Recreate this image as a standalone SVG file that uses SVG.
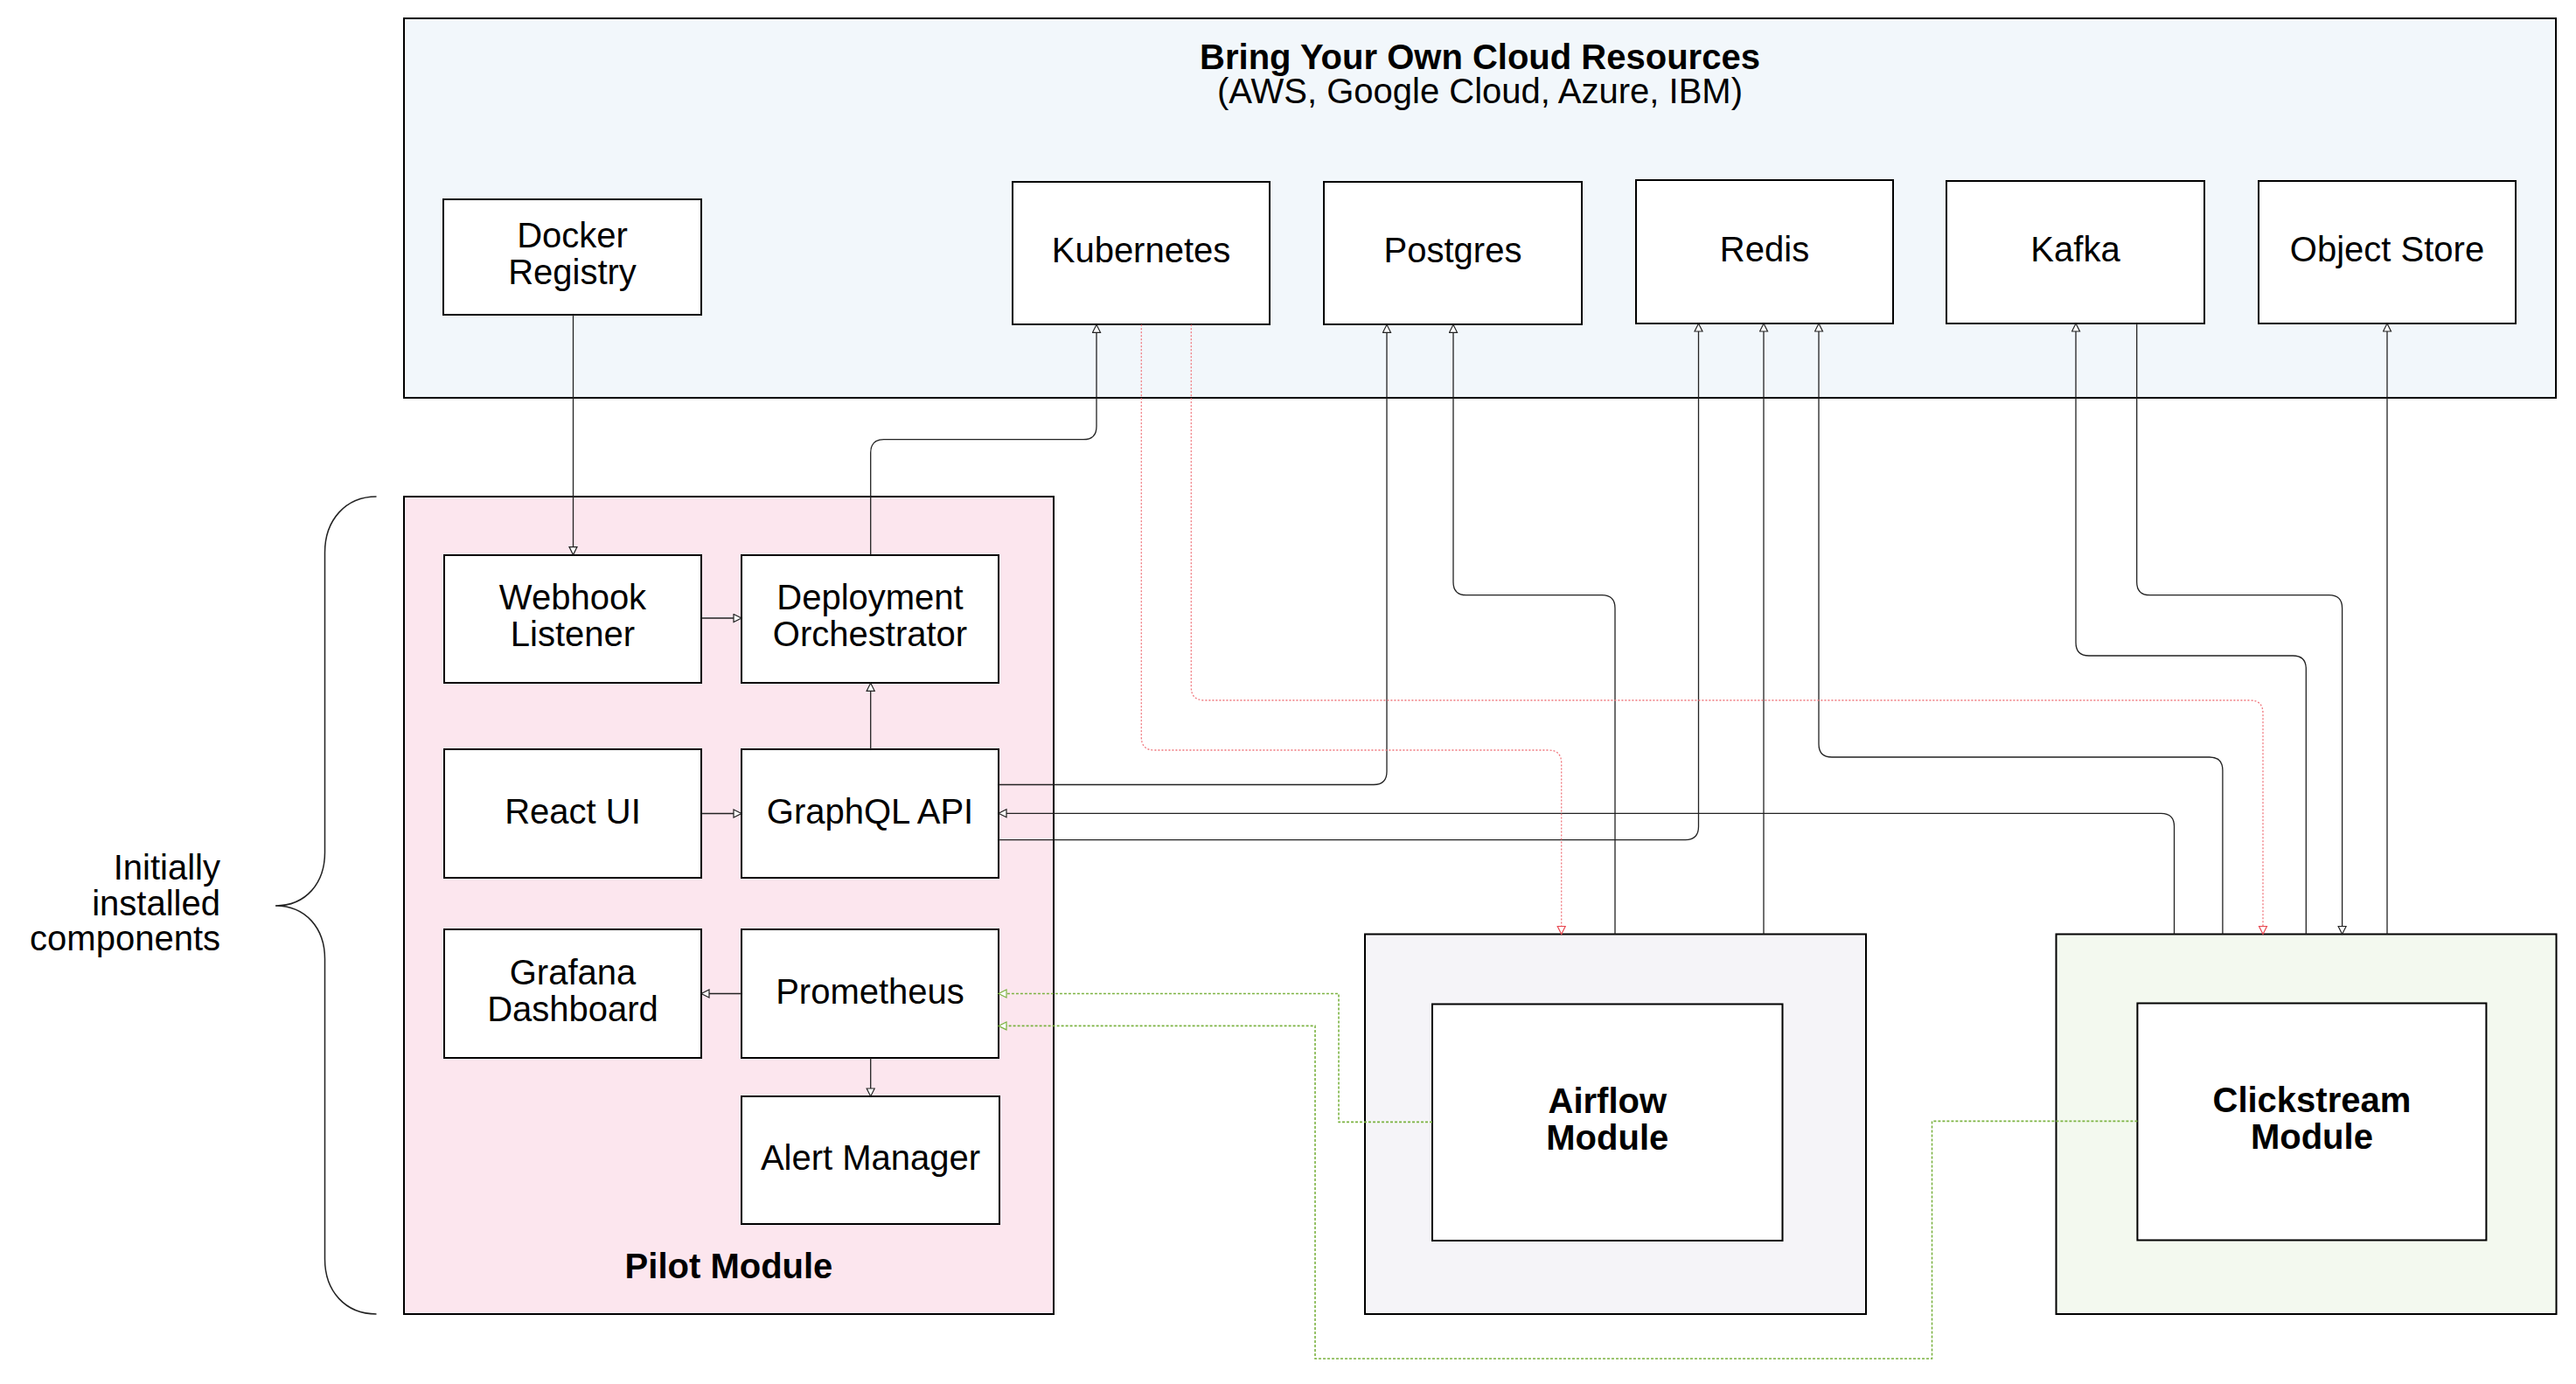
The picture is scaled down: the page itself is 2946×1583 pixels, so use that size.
<svg xmlns="http://www.w3.org/2000/svg" width="2946" height="1583" viewBox="0 0 2946 1583">
<style>
.box{fill:#fff;stroke:#000;stroke-width:2}
.t{font-family:"Liberation Sans",Arial,sans-serif;font-size:40px;text-anchor:middle;fill:#000}
.b{font-weight:bold}
.c{fill:none;stroke:#222;stroke-width:1.3}
.red{fill:none;stroke:#f0787e;stroke-width:1.3;stroke-dasharray:2 2}
.grn{fill:none;stroke:#7cb342;stroke-width:1.6;stroke-dasharray:3 2}
</style>
<defs>
<marker id="a" markerUnits="userSpaceOnUse" markerWidth="12" markerHeight="12" refX="10" refY="5.5" orient="auto"><path d="M1,1 L10,5.5 L1,10 z" fill="#fff" stroke="#222" stroke-width="1.2"/></marker>
<marker id="ar" markerUnits="userSpaceOnUse" markerWidth="12" markerHeight="12" refX="10" refY="5.5" orient="auto"><path d="M1,1 L10,5.5 L1,10 z" fill="#fff" stroke="#e8454e" stroke-width="1.2"/></marker>
<marker id="ag" markerUnits="userSpaceOnUse" markerWidth="12" markerHeight="12" refX="10" refY="5.5" orient="auto"><path d="M1,1 L10,5.5 L1,10 z" fill="#fff" stroke="#7cb342" stroke-width="1.2"/></marker>
</defs>
<rect width="2946" height="1583" fill="#fff"/>

<g id="cloud">
<rect x="462" y="21" width="2461" height="434" fill="#f2f7fb" stroke="#000" stroke-width="2"/>
<text class="t b" x="1692.5" y="79" font-size="38">Bring Your Own Cloud Resources</text>
<text class="t" x="1692.5" y="118" font-size="31">(AWS, Google Cloud, Azure, IBM)</text>
</g>

<g id="pilot">
<rect x="462" y="568" width="743" height="935" fill="#fce6ee" stroke="#000" stroke-width="2"/>
<text class="t b" x="833.5" y="1462" font-size="39">Pilot Module</text>
</g>

<g id="brace">
<path d="M430.5,568 C395,568 371.5,595 371.5,632 L371.5,975 C371.5,1010 350,1036 315,1036 C350,1036 371.5,1062 371.5,1097 L371.5,1440 C371.5,1477 395,1503 430.5,1503" fill="none" stroke="#222" stroke-width="1.5"/>
<text class="t" style="text-anchor:end" font-size="41" x="252" y="1006"><tspan x="252" y="1006">Initially</tspan><tspan x="252" y="1046.5">installed</tspan><tspan x="252" y="1087">components</tspan></text>
</g>

<g id="docker"><rect class="box" x="507" y="228" width="295" height="132"/><text class="t" x="654.5" y="283">Docker<tspan x="654.5" y="325">Registry</tspan></text></g>
<g id="kubernetes"><rect class="box" x="1158" y="208" width="294" height="163"/><text class="t" x="1305" y="300">Kubernetes</text></g>
<g id="postgres"><rect class="box" x="1514" y="208" width="295" height="163"/><text class="t" x="1661.5" y="300">Postgres</text></g>
<g id="redis"><rect class="box" x="1871" y="206" width="294" height="164"/><text class="t" x="2018" y="298.5">Redis</text></g>
<g id="kafka"><rect class="box" x="2226" y="207" width="295" height="163"/><text class="t" x="2373.5" y="299">Kafka</text></g>
<g id="objectstore"><rect class="box" x="2583" y="207" width="294" height="163"/><text class="t" x="2730" y="299">Object Store</text></g>

<g id="webhook"><rect class="box" x="508" y="635" width="294" height="146"/><text class="t" x="655" y="697">Webhook<tspan x="655" y="739">Listener</tspan></text></g>
<g id="deployment"><rect class="box" x="848" y="635" width="294" height="146"/><text class="t" x="995" y="697">Deployment<tspan x="995" y="739">Orchestrator</tspan></text></g>
<g id="reactui"><rect class="box" x="508" y="857" width="294" height="147"/><text class="t" x="655" y="941.5">React UI</text></g>
<g id="graphql"><rect class="box" x="848" y="857" width="294" height="147"/><text class="t" x="995" y="941.5">GraphQL API</text></g>
<g id="grafana"><rect class="box" x="508" y="1063" width="294" height="147"/><text class="t" x="655" y="1125.5">Grafana<tspan x="655" y="1167.5">Dashboard</tspan></text></g>
<g id="prometheus"><rect class="box" x="848" y="1063" width="294" height="147"/><text class="t" x="995" y="1147.5">Prometheus</text></g>
<g id="alertmanager"><rect class="box" x="848" y="1254" width="295" height="146"/><text class="t" x="995.5" y="1338">Alert Manager</text></g>

<g id="airflow">
<rect x="1561" y="1068.5" width="573" height="434.5" fill="#f5f4f8" stroke="#000" stroke-width="2"/>
<rect class="box" x="1638" y="1148.5" width="400.5" height="270.5"/>
<text class="t b" x="1838.3" y="1272.7" font-size="39">Airflow<tspan x="1838.3" y="1314.7">Module</tspan></text>
</g>
<g id="clickstream">
<rect x="2351.5" y="1068.5" width="572" height="434.5" fill="#f3f9ef" stroke="#000" stroke-width="2"/>
<rect class="box" x="2444.4" y="1147.5" width="399" height="271"/>
<text class="t b" x="2643.9" y="1272" font-size="39">Clickstream<tspan x="2643.9" y="1314">Module</tspan></text>
</g>

<g id="connectors">
<path class="c" marker-end="url(#a)" d="M655.5,360 L655.5,634.6"/>
<path class="c" marker-end="url(#a)" d="M802,707 L848,707"/>
<path class="c" marker-end="url(#a)" d="M995.7,857 L995.7,781.3"/>
<path class="c" marker-end="url(#a)" d="M802,930.5 L848,930.5"/>
<path class="c" marker-end="url(#a)" d="M848,1136.5 L802,1136.5"/>
<path class="c" marker-end="url(#a)" d="M995.7,1210 L995.7,1254"/>
<path class="c" marker-end="url(#a)" d="M995.7,634.6 L995.7,517.7 Q995.7,502.7 1010.7,502.7 L1239,502.7 Q1254,502.7 1254,487.7 L1254,371.3"/>
<path class="c" marker-end="url(#a)" d="M1142,897.5 L1571,897.5 Q1586,897.5 1586,882.5 L1586,371.3"/>
<path class="c" marker-end="url(#a)" d="M2486.5,1068.5 L2486.5,945.3 Q2486.5,930.3 2471.5,930.3 L1142,930.3"/>
<path class="c" marker-end="url(#a)" d="M1142,960.6 L1927.5,960.6 Q1942.5,960.6 1942.5,945.6 L1942.5,370"/>
<path class="c" marker-end="url(#a)" d="M1847,1068.5 L1847,695.7 Q1847,680.7 1832,680.7 L1677,680.7 Q1662,680.7 1662,665.7 L1662,371.3"/>
<path class="c" marker-end="url(#a)" d="M2017,1068.5 L2017,370"/>
<path class="c" marker-end="url(#a)" d="M2541.9,1068.5 L2541.9,881 Q2541.9,866 2526.9,866 L2095,866 Q2080,866 2080,851 L2080,370"/>
<path class="c" marker-end="url(#a)" d="M2443.7,370 L2443.7,665.7 Q2443.7,680.7 2458.7,680.7 L2663.6,680.7 Q2678.6,680.7 2678.6,695.7 L2678.6,1068.5"/>
<path class="c" marker-end="url(#a)" d="M2637.3,1068.5 L2637.3,765 Q2637.3,750 2622.3,750 L2389,750 Q2374,750 2374,735 L2374,370"/>
<path class="c" marker-end="url(#a)" d="M2730,1068.5 L2730,370"/>
<path class="red" marker-end="url(#ar)" d="M1305.3,371.3 L1305.3,843 Q1305.3,858 1320.3,858 L1770.7,858 Q1785.7,858 1785.7,873 L1785.7,1068.5"/>
<path class="red" marker-end="url(#ar)" d="M1362.3,371.3 L1362.3,786 Q1362.3,801 1377.3,801 L2573,801 Q2588,801 2588,816 L2588,1068.5"/>
<path class="grn" marker-end="url(#ag)" d="M1638,1283.4 L1531,1283.4 L1531,1136.5 L1142,1136.5"/>
<path class="grn" marker-end="url(#ag)" d="M2444.4,1282.4 L2209.5,1282.4 L2209.5,1554 L1504,1554 L1504,1173.4 L1142,1173.4"/>
</g>
</svg>
